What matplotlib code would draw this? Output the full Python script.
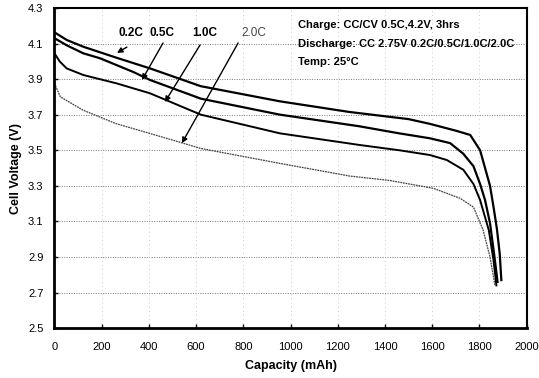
import matplotlib
matplotlib.use("Agg")
import matplotlib.pyplot as plt
import numpy as np

plt.rcParams['font.family'] = ['Liberation Sans Narrow', 'Liberation Sans', 'DejaVu Sans']

cap_02 = [0, 52, 122, 263, 405, 620, 955, 1250, 1500, 1591, 1700, 1761, 1803, 1845, 1860, 1874, 1886, 1893]
v_02 = [4.163, 4.12, 4.082, 4.02, 3.96, 3.86, 3.775, 3.715, 3.675, 3.648, 3.61, 3.586, 3.50, 3.30, 3.18, 3.06, 2.92, 2.77]

cap_05 = [0, 52, 122, 193, 334, 405, 620, 955, 1290, 1460, 1591, 1676, 1732, 1775, 1803, 1824, 1845, 1862, 1877]
v_05 = [4.13, 4.09, 4.045, 4.017, 3.94, 3.895, 3.79, 3.70, 3.635, 3.595, 3.567, 3.54, 3.48, 3.41, 3.31, 3.22, 3.09, 2.92, 2.76]

cap_10 = [0, 23, 52, 122, 263, 405, 620, 955, 1290, 1460, 1591, 1662, 1732, 1775, 1803, 1840, 1860, 1872]
v_10 = [4.045, 3.998, 3.96, 3.923, 3.876, 3.82, 3.70, 3.595, 3.53, 3.50, 3.473, 3.445, 3.39, 3.31, 3.22, 3.05, 2.88, 2.74]

cap_20 = [0, 25, 120, 260, 475, 620, 955, 1250, 1420, 1605, 1718, 1775, 1816, 1845, 1866]
v_20 = [3.876, 3.80, 3.726, 3.65, 3.567, 3.51, 3.426, 3.355, 3.33, 3.286, 3.23, 3.18, 3.05, 2.90, 2.74]

x_ticks = [0, 200, 400, 600, 800, 1000, 1200, 1400, 1600, 1800, 2000]
y_ticks = [2.5, 2.7, 2.9, 3.1, 3.3, 3.5, 3.7, 3.9, 4.1, 4.3]

rate_labels = ['0.2C', '0.5C', '1.0C', '2.0C']
label_x = [324, 456, 638, 845]
arrow_tail = [(307, 4.08), (460, 4.103), (617, 4.092), (778, 4.103)]
arrow_head = [(265, 4.047), (371, 3.895), (468, 3.771), (540, 3.54)]

info_lines = ['Charge: CC/CV 0.5C,4.2V, 3hrs',
              'Discharge: CC 2.75V 0.2C/0.5C/1.0C/2.0C',
              'Temp: 25°C']

fig = plt.figure(figsize=(5.39, 3.78), dpi=100)
ax = fig.add_axes([0.101, 0.132, 0.876, 0.847])

ax.plot(cap_02, v_02, color='black', lw=1.6)
ax.plot(cap_05, v_05, color='black', lw=1.6)
ax.plot(cap_10, v_10, color='black', lw=1.4)
ax.plot(cap_20, v_20, color='#444444', lw=0.9, linestyle=(0, (1.5, 0.6)))

ax.set_xlim(0, 2000)
ax.set_ylim(2.5, 4.3)
ax.set_xticks(x_ticks)
ax.set_yticks(y_ticks)
ax.set_xticklabels([str(t) for t in x_ticks], fontsize=8)
ax.set_yticklabels([f'{t:.1f}' for t in y_ticks], fontsize=8)
ax.tick_params(direction='in', length=3, width=1)
ax.tick_params(axis='x', pad=10)
ax.tick_params(axis='y', pad=8)

for yv in y_ticks[1:-1]:
    ax.axhline(yv, color='#777777', lw=0.7, linestyle=(0, (1, 1.5)), zorder=0)
for xv in x_ticks[1:-1]:
    ax.axvline(xv, color='#bbbbbb', lw=0.6, linestyle=(0, (1, 4)), zorder=0)

ax.spines['left'].set_linewidth(2.0)
ax.spines['bottom'].set_linewidth(2.0)
ax.spines['top'].set_linewidth(1.5)
ax.spines['right'].set_linewidth(1.5)

ax.set_xlabel('Capacity (mAh)', fontsize=9, fontweight='bold', labelpad=6)
ax.set_ylabel('Cell Voltage (V)', fontsize=9, fontweight='bold', labelpad=4)

for i, lab in enumerate(rate_labels):
    bold = 'normal' if lab == '2.0C' else 'bold'
    col = '#444444' if lab == '2.0C' else 'black'
    ax.text(label_x[i], 4.16, lab, fontsize=8.5, fontweight=bold, color=col,
            ha='center', va='center')
    ax.annotate('', xy=arrow_head[i], xytext=arrow_tail[i],
                arrowprops=dict(arrowstyle='-|>', color='black', lw=1.0,
                                mutation_scale=8, shrinkA=0, shrinkB=0))

ty = [4.205, 4.10, 3.995]
for line, yv in zip(info_lines, ty):
    ax.text(1030, yv, line, fontsize=8, fontweight='bold', ha='left', va='center')

fig.savefig('out.png', dpi=100)
